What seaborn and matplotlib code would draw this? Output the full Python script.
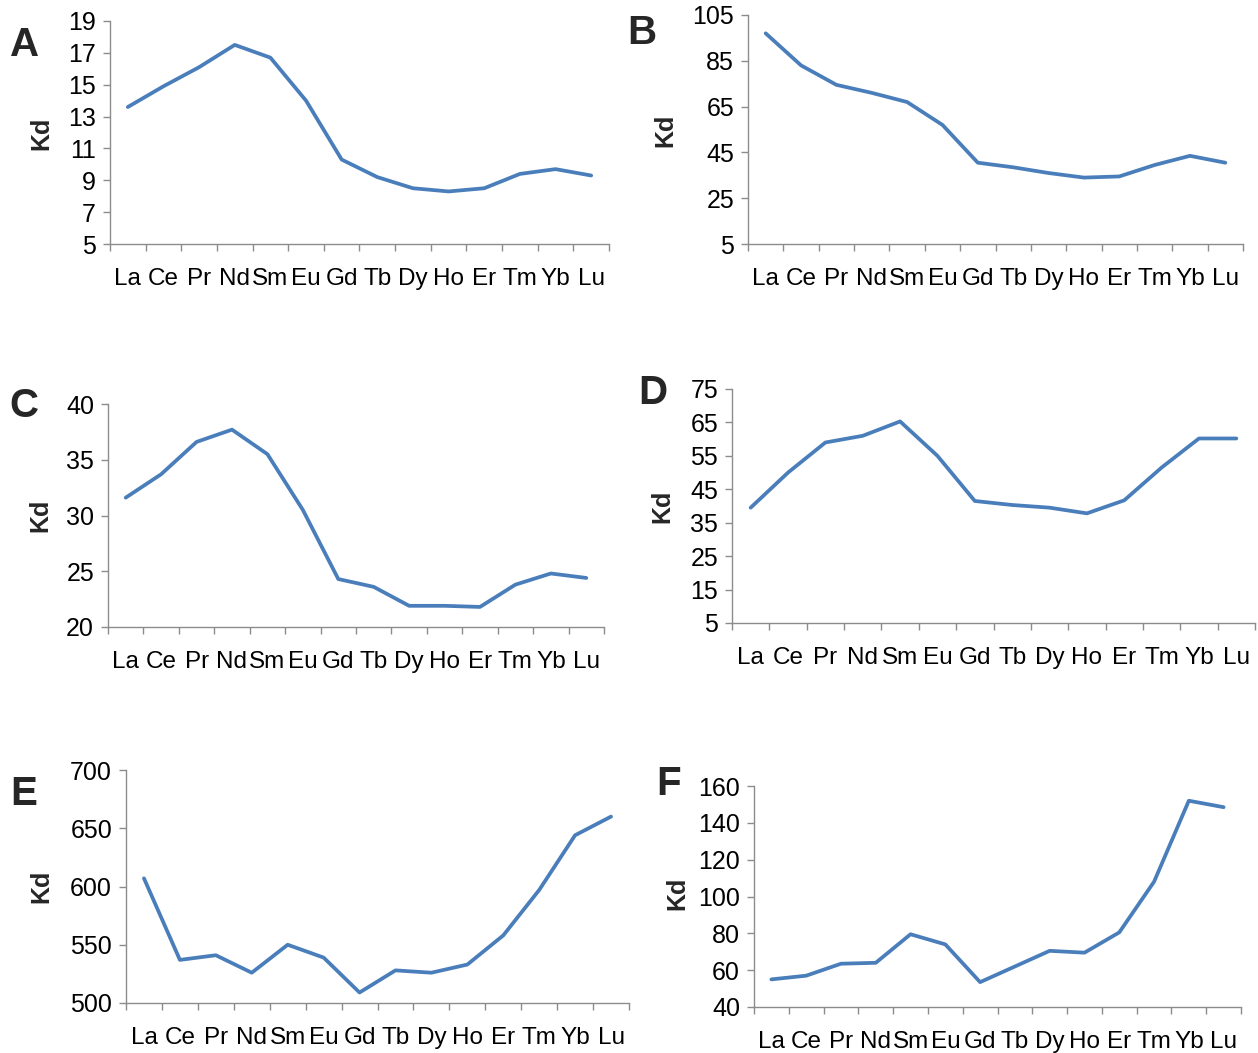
import matplotlib
matplotlib.use("Agg")
import matplotlib.pyplot as plt
import seaborn as sns
import pandas as pd
import numpy as np
from matplotlib.ticker import FixedLocator

sns.set_theme(style="white")
plt.rcParams['font.family'] = ['Liberation Sans', 'DejaVu Sans']

elements = ["La", "Ce", "Pr", "Nd", "Sm", "Eu", "Gd", "Tb", "Dy", "Ho", "Er", "Tm", "Yb", "Lu"]

kd_a = [13.6, 14.9, 16.1, 17.5, 16.7, 14.0, 10.3, 9.2, 8.5, 8.3, 8.5, 9.4, 9.7, 9.3]
kd_b = [97, 83, 74.5, 71, 67, 57, 40.5, 38.5, 36, 34, 34.5, 39.5, 43.5, 40.5]
kd_c = [31.6, 33.7, 36.6, 37.7, 35.5, 30.5, 24.3, 23.6, 21.9, 21.9, 21.8, 23.8, 24.8, 24.4]
kd_d = [39.5, 50, 59, 61, 65.3, 55, 41.5, 40.3, 39.5, 37.8, 41.7, 51.5, 60.2, 60.2]
kd_e = [607, 537, 541, 526, 550, 539, 509, 528, 526, 533, 558, 597, 644, 660]
kd_f = [55, 57, 63.5, 64, 79.5, 74, 53.5, 62, 70.5, 69.5, 80.5, 108, 152, 148.5]

panel_labels = ["A", "B", "C", "D", "E", "F"]
y_ticks = [
    [5, 7, 9, 11, 13, 15, 17, 19],
    [5, 25, 45, 65, 85, 105],
    [20, 25, 30, 35, 40],
    [5, 15, 25, 35, 45, 55, 65, 75],
    [500, 550, 600, 650, 700],
    [40, 60, 80, 100, 120, 140, 160],
]
series = [kd_a, kd_b, kd_c, kd_d, kd_e, kd_f]

W, H = 1258, 1053
# axes boxes in pixels: left, right, top, bottom
boxes = [
    (110, 609, 21, 244),
    (748, 1243, 15, 244),
    (108, 604, 404, 627),
    (732, 1255, 389, 623),
    (126, 629, 770, 1003),
    (754, 1241, 786, 1007),
]
letter_pos = [(25, 45), (642, 33), (24, 406), (653, 393), (24, 794), (669, 784)]
kd_pos = [(41, 133), (665, 130), (40, 515), (662, 506), (41, 886), (677, 893)]

line_color = "#4A7EBB"
axis_color = "#8C8C8C"

fig = plt.figure(figsize=(W / 100, H / 100), dpi=100)
fig.patch.set_facecolor("white")

for i in range(6):
    l, r, t, b = boxes[i]
    ax = fig.add_axes([l / W, 1 - b / H, (r - l) / W, (b - t) / H])
    df = pd.DataFrame({"element": elements, "Kd": series[i]})
    sns.lineplot(data=df, x="element", y="Kd", sort=False, ax=ax,
                 color=line_color, linewidth=2.7, solid_joinstyle="round",
                 solid_capstyle="round", clip_on=False)
    ax.set_xlim(-0.5, len(elements) - 0.5)
    ax.set_ylim(y_ticks[i][0], y_ticks[i][-1])
    ax.set_yticks(y_ticks[i])
    ax.set_xticks(range(len(elements)))
    ax.set_xticklabels(elements)
    ax.xaxis.set_minor_locator(FixedLocator(np.arange(-0.5, len(elements), 1.0)))
    ax.tick_params(axis="x", which="major", length=0, pad=17, labelsize=17.5,
                   labelcolor="black")
    ax.tick_params(axis="x", which="minor", length=5, width=1.0, color=axis_color,
                   direction="out", bottom=True)
    ax.tick_params(axis="y", which="major", length=5, width=1.0, color=axis_color,
                   direction="out", pad=5, labelsize=18, labelcolor="black", left=True)
    for side in ["top", "right"]:
        ax.spines[side].set_visible(False)
    for side in ["left", "bottom"]:
        ax.spines[side].set_color(axis_color)
        ax.spines[side].set_linewidth(1.0)
    ax.set_xlabel("")
    ax.set_ylabel("")
    ax.set_facecolor("white")
    ax.grid(False)

    lx, ly = letter_pos[i]
    fig.text(lx / W, 1 - ly / H, panel_labels[i], fontsize=29, fontweight="bold",
             ha="center", va="center")
    kx, ky = kd_pos[i]
    fig.text(kx / W, 1 - ky / H, "Kd", fontsize=18, fontweight="bold",
             rotation=90, ha="center", va="center")

fig.savefig("out.png", dpi=100, facecolor="white")
